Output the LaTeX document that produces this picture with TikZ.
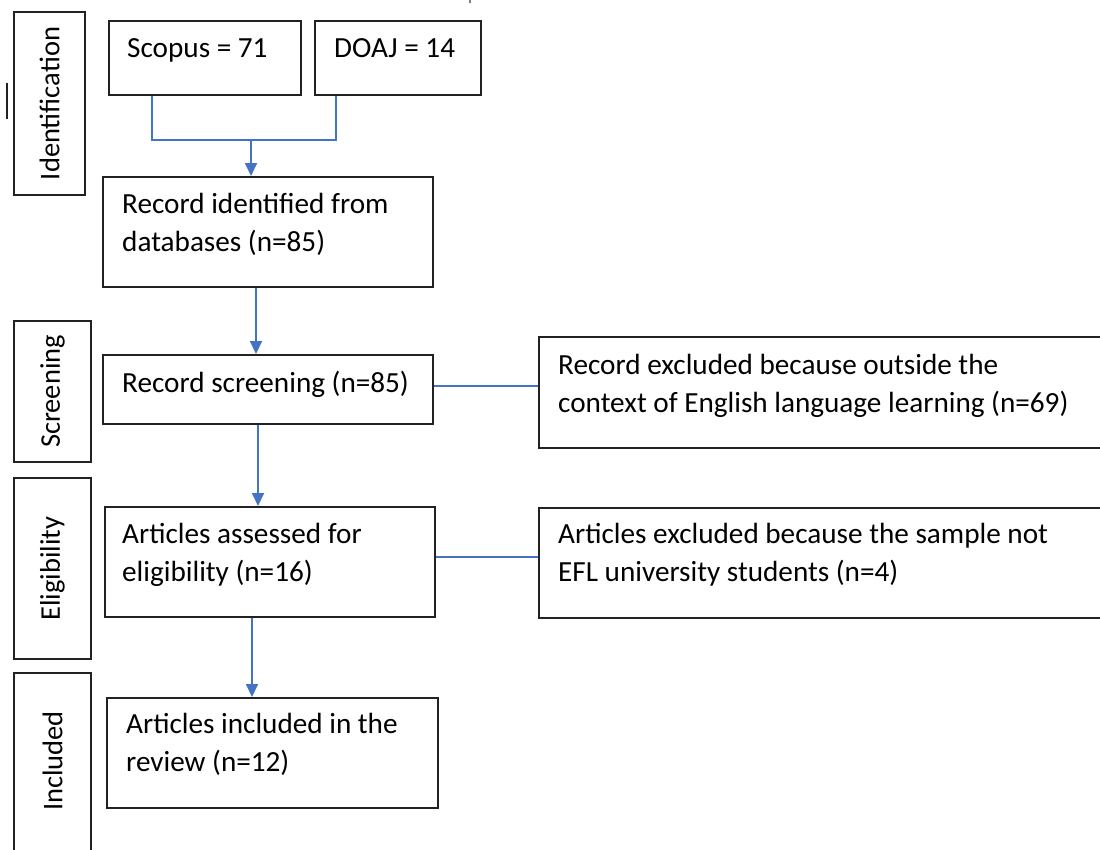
\documentclass[tikz,border=0pt]{standalone}
\usepackage{fontspec}
\setmainfont{Carlito}
\usetikzlibrary{arrows.meta,calc}
\definecolor{wordblue}{HTML}{4472C4}
\definecolor{boxline}{HTML}{222222}
\tikzset{
  px/.style={x=1pt,y=-1pt},
  box/.style={draw=boxline,line width=2pt,rectangle,inner sep=0pt,anchor=north west},
  boxtext/.style={anchor=north west,inner sep=0pt,align=left,font=\fontsize{29.2}{38}\selectfont},
  sidetext/.style={rotate=90,inner sep=0pt,font=\fontsize{28.5}{34}\selectfont},
  conn/.style={draw=wordblue,line width=1.8pt},
  arr/.style={conn,-{Triangle[width=12pt,length=13pt]}}
}
\newcommand{\tstrut}{\rule{0pt}{21pt}}
\begin{document}
\begin{tikzpicture}[px]
\useasboundingbox (0,0) rectangle (1100,849);
% side boxes
\node[box,minimum width=71pt,minimum height=183pt] (sid) at (13,11) {};
\node[sidetext] at (sid.center) {Identification};
\node[box,minimum width=77pt,minimum height=141pt] (ssc) at (13,320) {};
\node[sidetext] at (ssc.center) {Screening};
\node[box,minimum width=77pt,minimum height=181pt] (sel) at (13,477) {};
\node[sidetext] at (sel.center) {Eligibility};
\node[box,minimum width=77pt,minimum height=185pt] (sin) at (13,672) {};
\node[sidetext] at ($(sin.north)+(0,89)$) {Included};
% stray marks
\draw[boxline,line width=2.2pt] (7.3,83) -- (7.3,119);
\draw[gray,line width=1.2pt] (470,0) -- (470,2.5);
% main boxes
\node[box,minimum width=192pt,minimum height=74pt] (scopus) at (108,20) {};
\node[boxtext] at (127,36) {\tstrut Scopus = 71};
\node[box,minimum width=166pt,minimum height=74pt] (doaj) at (314,20) {};
\node[boxtext] at (334,36) {\tstrut DOAJ = 14};
\node[box,minimum width=330pt,minimum height=110pt] (rid) at (102,176) {};
\node[boxtext] at (122,192) {\tstrut Record identified from\\databases (n=85)};
\node[box,minimum width=330pt,minimum height=69pt] (rsc) at (102,354) {};
\node[boxtext] at (122,371) {\tstrut Record screening (n=85)};
\node[box,minimum width=330pt,minimum height=110pt] (aae) at (104,506) {};
\node[boxtext] at (122,522) {\tstrut Articles assessed for\\eligibility (n=16)};
\node[box,minimum width=331pt,minimum height=110pt] (ain) at (106,697) {};
\node[boxtext] at (126,712) {\tstrut Articles included in the\\review (n=12)};
\node[box,minimum width=567pt,minimum height=111pt] (ex1) at (538,336) {};
\node[boxtext] at (558,353) {\tstrut Record excluded because outside the\\context of English language learning (n=69)};
\node[box,minimum width=567pt,minimum height=110pt] (ex2) at (538,507) {};
\node[boxtext] at (558,522) {\tstrut Articles excluded because the sample not\\EFL university students (n=4)};
% connectors
\coordinate (join) at (251,140);
\draw[conn] (scopus.south -| 152,0) |- (join);
\draw[conn] (doaj.south -| 336,0) |- (join);
\draw[arr] (join) -- (join |- rid.north);
\draw[arr] (rid.south -| 256,0) -- (rsc.north -| 256,0);
\draw[arr] (rsc.south -| 258,0) -- (aae.north -| 258,0);
\draw[arr] (aae.south -| 252,0) -- (ain.north -| 252,0);
\draw[conn] (rsc.east |- 0,386) -- (ex1.west |- 0,386);
\draw[conn] (aae.east |- 0,557) -- (ex2.west |- 0,557);
\end{tikzpicture}
\end{document}
